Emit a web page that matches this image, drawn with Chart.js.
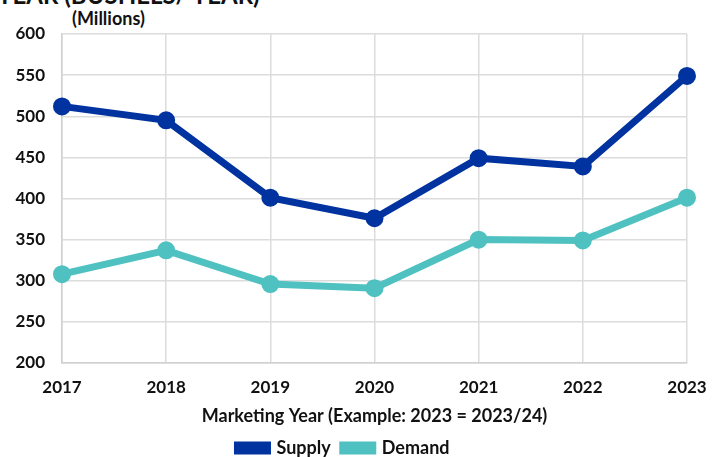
<!DOCTYPE html>
<html lang="en">
<head>
  <meta charset="UTF-8" />
  <title>Supply and Demand</title>
  <script src="https://cdn.jsdelivr.net/npm/chart.js"></script>
  <style>
    body {
      margin: 0;
      width: 722px;
      height: 457px;
      overflow: hidden;
      background: #fff;
      font-family: 'Lato', sans-serif;
      position: relative;
    }
    #top-title {
      position: absolute;
      left: -3px;
      top: -20px;
      font-size: 24px;
      font-weight: bold;
      color: #111;
      white-space: nowrap;
    }
    #unit {
      position: absolute;
      left: 72px;
      top: 7px;
      font-size: 18px;
      font-weight: bold;
      color: #111;
    }
    #chart-container {
      position: absolute;
      left: 0;
      top: 0;
      width: 722px;
      height: 457px;
    }
  </style>
</head>
<body>
  <div id="top-title">YEAR (BUSHELS/ YEAR)</div>
  <div id="unit">(Millions)</div>
  <div id="chart-container">
    <canvas id="lineChart"></canvas>
  </div>

  <script>
    const years = ["2017", "2018", "2019", "2020", "2021", "2022", "2023"];
    const supply = [512, 495, 401, 376, 449, 439, 549];
    const demand = [308, 337, 296, 291, 350, 349, 401];
    const yTicks = [200, 250, 300, 350, 400, 450, 500, 550, 600];

    const tickFont = { family: 'Lato', size: 17, weight: 'bold' };
    const labelFont = { family: 'Lato', size: 18, weight: 'bold' };

    const ctx = document.getElementById("lineChart").getContext("2d");
    new Chart(ctx, {
      type: "line",
      data: {
        labels: years,
        datasets: [
          {
            label: "Supply",
            data: supply,
            borderColor: "#0033a0",
            backgroundColor: "#0033a0",
            borderWidth: 7,
            pointRadius: 5.5,
            pointHoverRadius: 5.5,
            tension: 0
          },
          {
            label: "Demand",
            data: demand,
            borderColor: "#4fc1c1",
            backgroundColor: "#4fc1c1",
            borderWidth: 7,
            pointRadius: 5.5,
            pointHoverRadius: 5.5,
            tension: 0
          }
        ]
      },
      options: {
        responsive: true,
        maintainAspectRatio: false,
        animation: false,
        layout: {
          padding: { top: 34, right: 35, left: 0, bottom: -10 }
        },
        scales: {
          x: {
            offset: false,
            grid: { color: "#dcdcdc", lineWidth: 1.5, drawTicks: false },
            border: { color: "#d0d0d0", width: 1.5 },
            ticks: { color: "#111", font: tickFont, padding: 14, maxRotation: 0 },
            title: {
              display: true,
              text: "Marketing Year (Example: 2023 = 2023/24)",
              color: "#111",
              font: labelFont,
              padding: { top: -6, bottom: 0 }
            }
          },
          y: {
            min: 200,
            max: 600,
            afterBuildTicks: axis => {
              axis.ticks = yTicks.map(v => ({ value: v }));
            },
            afterFit: axis => {
              axis.width = 62;
            },
            grid: { color: "#dcdcdc", lineWidth: 1.5, drawTicks: false },
            border: { color: "#d0d0d0", width: 1.5 },
            ticks: { color: "#111", font: tickFont, padding: 17 }
          }
        },
        plugins: {
          legend: {
            position: "bottom",
            labels: {
              color: "#111",
              font: labelFont,
              boxWidth: 30,
              boxHeight: 6,
              padding: 12
            }
          },
          tooltip: { enabled: false }
        }
      }
    });
  </script>
</body>
</html>
